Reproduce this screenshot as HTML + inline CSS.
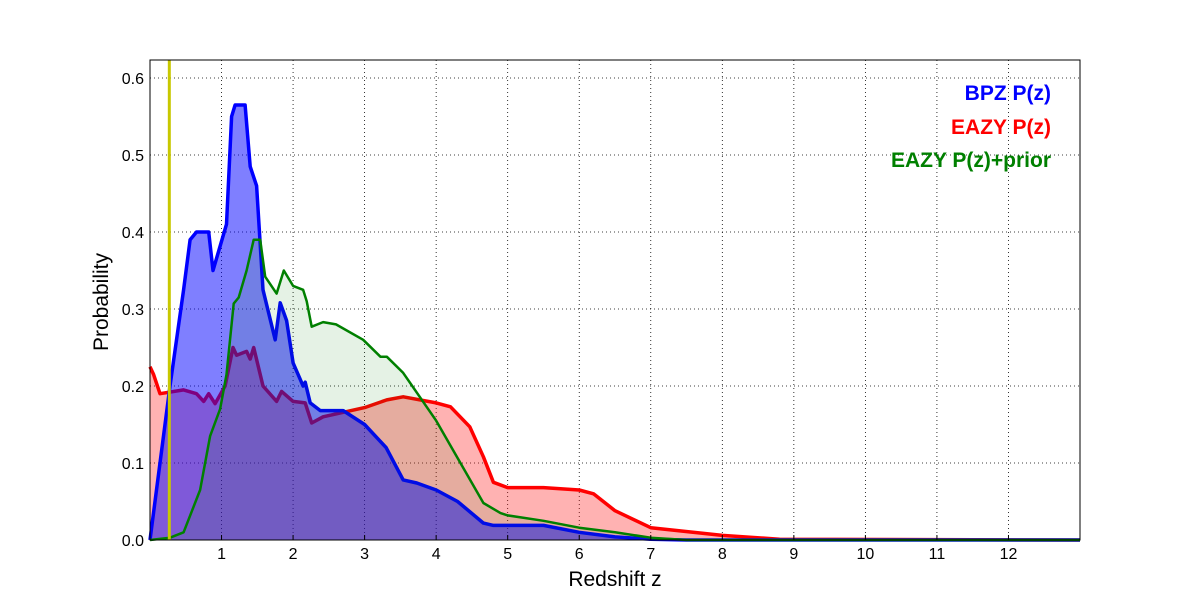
<!DOCTYPE html>
<html><head><meta charset="utf-8"><style>
html,body{margin:0;padding:0;background:#fff;}
svg{display:block;font-family:"Liberation Sans","DejaVu Sans",sans-serif;}
</style></head><body>
<svg id="chart" width="1200" height="600" viewBox="0 0 1200 600">
<rect x="0" y="0" width="1200" height="600" fill="#fff"/>
<g id="grid"></g>
<g id="series"></g>
<rect x="150" y="60" width="930" height="480" fill="none" stroke="#000" stroke-width="1"/>
<g id="ticks"></g>
<text x="615" y="586" font-size="21" text-anchor="middle">Redshift z</text>
<text x="108" y="302" font-size="21" text-anchor="middle" transform="rotate(-90 108 302)">Probability</text>
<text x="1051" y="100" font-size="21" font-weight="bold" fill="#0000ff" text-anchor="end">BPZ P(z)</text>
<text x="1051" y="134" font-size="21" font-weight="bold" fill="#ff0000" text-anchor="end">EAZY P(z)</text>
<text x="1051" y="167" font-size="21" font-weight="bold" fill="#008000" text-anchor="end">EAZY P(z)+prior</text>
</svg>
<script>
const xTicks=[1,2,3,4,5,6,7,8,9,10,11,12];
const yTicks=[0.0,0.1,0.2,0.3,0.4,0.5,0.6];
const specZ=0.27;
const bpzZ=[0,0.28,0.47,0.56,0.65,0.82,0.88,1.07,1.14,1.19,1.33,1.40,1.49,1.58,1.75,1.82,1.91,2.0,2.14,2.17,2.24,2.38,2.7,3.0,3.3,3.54,3.73,4.0,4.3,4.66,4.8,5.0,5.5,6.0,6.5,7.0,7.5,13];
const bpzP=[0,0.20,0.325,0.39,0.40,0.40,0.35,0.41,0.55,0.565,0.565,0.485,0.46,0.325,0.26,0.308,0.285,0.23,0.2,0.205,0.178,0.168,0.168,0.15,0.12,0.078,0.074,0.065,0.05,0.022,0.019,0.019,0.019,0.01,0.004,0.001,0,0];
const eazyZ=[0,0.05,0.14,0.47,0.65,0.75,0.82,0.91,1.05,1.16,1.21,1.35,1.40,1.45,1.58,1.77,1.84,2.0,2.17,2.26,2.42,3.0,3.31,3.54,4.0,4.2,4.47,4.66,4.8,5.0,5.5,6.0,6.2,6.5,7.0,8.0,8.8,13];
const eazyP=[0.225,0.215,0.19,0.195,0.19,0.18,0.19,0.177,0.2,0.25,0.24,0.245,0.235,0.25,0.2,0.18,0.193,0.18,0.178,0.152,0.16,0.172,0.182,0.186,0.178,0.173,0.147,0.108,0.075,0.068,0.068,0.065,0.06,0.038,0.016,0.006,0.001,0];
const priorZ=[0,0.28,0.47,0.70,0.84,0.98,1.07,1.17,1.24,1.35,1.45,1.54,1.61,1.77,1.87,2.0,2.14,2.19,2.26,2.42,2.6,2.98,3.22,3.31,3.54,4.0,4.66,4.9,5.0,5.5,6.0,6.5,7.0,7.5,13];
const priorP=[0,0.003,0.01,0.065,0.135,0.17,0.215,0.307,0.315,0.35,0.39,0.39,0.342,0.32,0.35,0.33,0.325,0.31,0.277,0.283,0.28,0.26,0.238,0.238,0.217,0.155,0.048,0.035,0.032,0.025,0.016,0.01,0.003,0,0];

const NS="http://www.w3.org/2000/svg";
const X0=150,X1=1080,Y0=540,Y1=60,ZMAX=13,PMAX=0.6234;
const sx=z=>X0+(z/ZMAX)*(X1-X0);
const sy=p=>Y0-(p/PMAX)*(Y0-Y1);
function mk(tag,attrs,parent){const e=document.createElementNS(NS,tag);for(const k in attrs)e.setAttribute(k,attrs[k]);parent.appendChild(e);return e;}
const grid=document.getElementById('grid'),ticks=document.getElementById('ticks'),series=document.getElementById('series');
xTicks.forEach(t=>{
  const l=mk('line',{x1:sx(t),x2:sx(t),y1:Y1,y2:Y0,stroke:'#000','stroke-width':0.8,'stroke-dasharray':'1,3'},grid);
  
  
  const tk=mk('line',{x1:sx(t),x2:sx(t),y1:Y0,y2:Y0-5,stroke:'#000'},ticks);
  
  
  const tx=mk('text',{x:sx(t),y:Y0+19,'font-size':16,'text-anchor':'middle'},ticks);
  tx.textContent=String(t);
  
  
});
yTicks.forEach(t=>{
  const l=mk('line',{x1:X0,x2:X1,y1:sy(t),y2:sy(t),stroke:'#000','stroke-width':0.8,'stroke-dasharray':'1,3'},grid);
  
  
  const tx=mk('text',{x:X0-6,y:sy(t)+6,'font-size':16,'text-anchor':'end'},ticks);
  tx.textContent=t.toFixed(1);
  
  
});
function pts(zs,ps){return zs.map((z,i)=>sx(z).toFixed(1)+','+sy(ps[i]).toFixed(1));}
function draw(zs,ps,col,op,w,name){
  const p=pts(zs,ps);
  const f=mk('polygon',{points:sx(zs[0])+','+Y0+' '+p.join(' ')+' '+sx(zs[zs.length-1])+','+Y0,fill:col,'fill-opacity':op,stroke:'none'},series);
  
  
  const l=mk('polyline',{points:p.join(' '),fill:'none',stroke:col,'stroke-width':w,'stroke-linejoin':'round'},series);
  
  
}
draw(eazyZ,eazyP,'#ff0000',0.3,3.5,'eazy');
draw(bpzZ,bpzP,'#0000ff',0.5,3.5,'bpz');
draw(priorZ,priorP,'#008000',0.1,2.5,'eazy-prior');
const y=mk('line',{x1:sx(specZ),x2:sx(specZ),y1:Y1,y2:Y0,stroke:'#c8c800','stroke-width':3},series);


</script>
</body></html>
